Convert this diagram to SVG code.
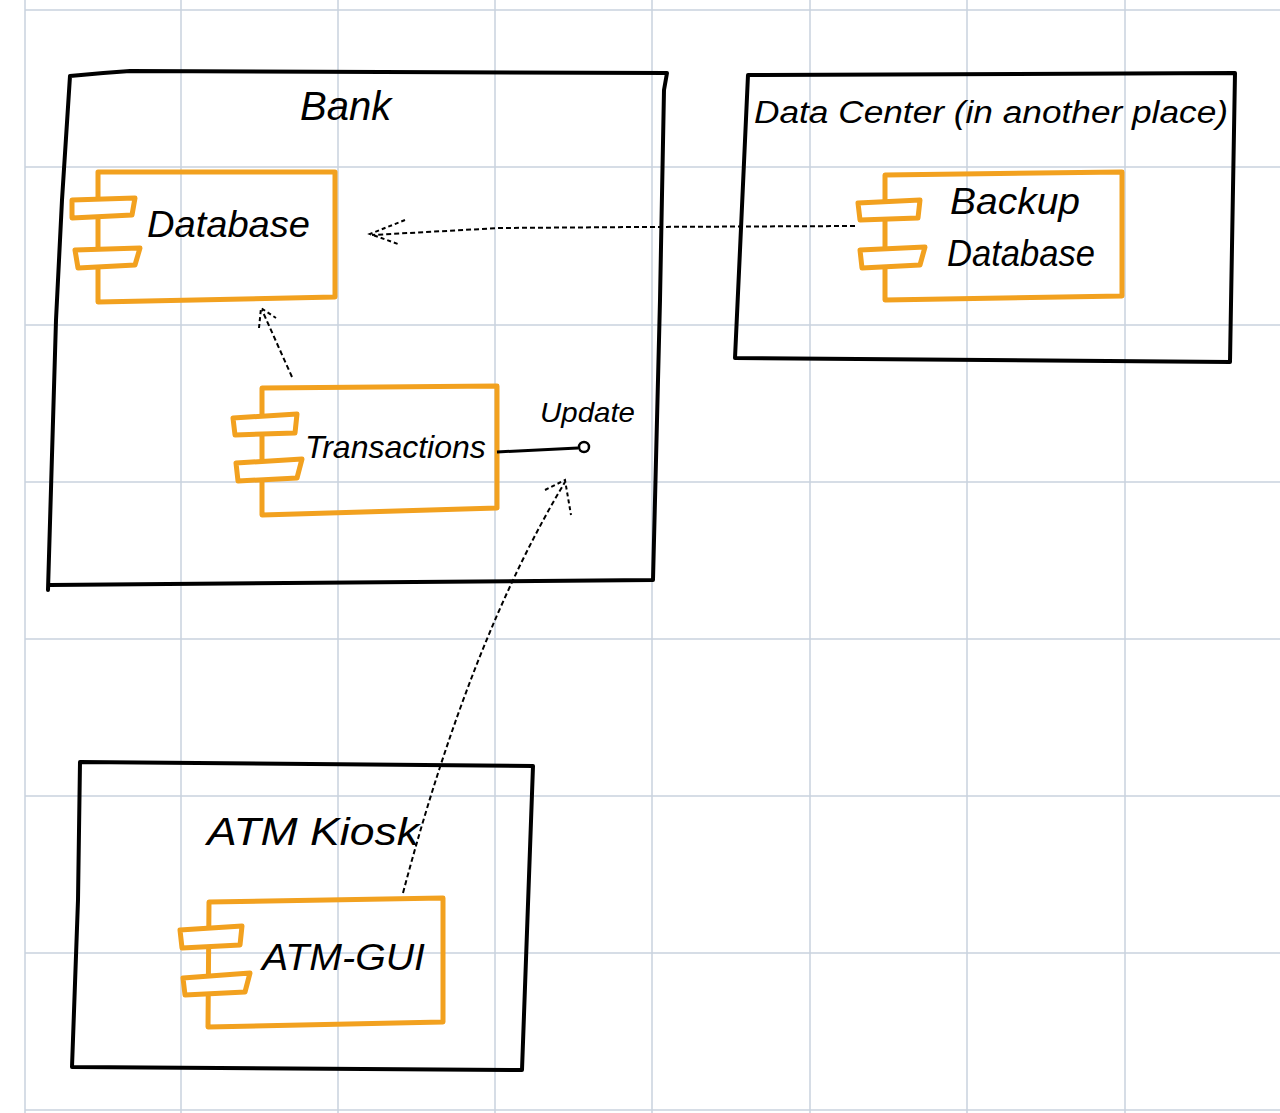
<svg xmlns="http://www.w3.org/2000/svg" width="1280" height="1113" viewBox="0 0 1280 1113">
<defs>
<style>
.grid{stroke:#c9d2de;stroke-width:1.5}
.frame{fill:none;stroke:#000;stroke-width:4;stroke-linejoin:round;stroke-linecap:round}
.comp{fill:none;stroke:#f2a11f;stroke-width:5;stroke-linejoin:round;stroke-linecap:round}
.tab{fill:#fff;stroke:#f2a11f;stroke-width:5;stroke-linejoin:round}
.dash{fill:none;stroke:#000;stroke-width:2;stroke-dasharray:5 3}
.ah{fill:none;stroke:#000;stroke-width:2;stroke-dasharray:4 3}
.lbl{font-family:"Liberation Sans",Arial,sans-serif;font-style:italic;fill:#000}
</style>
</defs>
<rect width="1280" height="1113" fill="#fff"/>
<g id="grid">
<line class="grid" x1="25" y1="0" x2="25" y2="1113"/>
<line class="grid" x1="181" y1="0" x2="181" y2="1113"/>
<line class="grid" x1="338" y1="0" x2="338" y2="1113"/>
<line class="grid" x1="495" y1="0" x2="495" y2="1113"/>
<line class="grid" x1="652" y1="0" x2="652" y2="1113"/>
<line class="grid" x1="810" y1="0" x2="810" y2="1113"/>
<line class="grid" x1="967" y1="0" x2="967" y2="1113"/>
<line class="grid" x1="1125" y1="0" x2="1125" y2="1113"/>
<line class="grid" x1="25" y1="10" x2="1280" y2="10"/>
<line class="grid" x1="25" y1="167" x2="1280" y2="167"/>
<line class="grid" x1="25" y1="325" x2="1280" y2="325"/>
<line class="grid" x1="25" y1="482" x2="1280" y2="482"/>
<line class="grid" x1="25" y1="639" x2="1280" y2="639"/>
<line class="grid" x1="25" y1="796" x2="1280" y2="796"/>
<line class="grid" x1="25" y1="953" x2="1280" y2="953"/>
<line class="grid" x1="25" y1="1110" x2="1280" y2="1110"/>
</g>
<g id="bank">
<path class="frame" d="M70,76 Q100,73 130,71 L667,73 L664,90 L660,300 L655,500 L653,580 L50,585 M48,590 L56,320 L62,200 L70,76"/>
<text class="lbl" x="300" y="120" font-size="40">Bank</text>
</g>
<g id="datacenter">
<path class="frame" d="M748,75 L1235,73 L1230,362 L735,358 L740,250 Z"/>
<text class="lbl" x="754" y="123" font-size="31" textLength="474" lengthAdjust="spacingAndGlyphs">Data Center (in another place)</text>
</g>
<g id="atmkiosk">
<path class="frame" d="M80,762 L533,766 L522,1070 L72,1067 L78,900 Z"/>
<text class="lbl" x="207" y="845" font-size="38" textLength="212" lengthAdjust="spacingAndGlyphs">ATM Kiosk</text>
</g>
<g id="database">
<path class="comp" d="M98,172 L335,172 L335,297 L98,302 Z"/>
<path class="tab" d="M72,200 L135,198 L132,215 L72,218 Z"/>
<path class="tab" d="M75,250 L140,248 L135,265 L78,268 Z"/>
<text class="lbl" x="147" y="237" font-size="36" textLength="163" lengthAdjust="spacingAndGlyphs">Database</text>
</g>
<g id="transactions">
<path class="comp" d="M262,388 L497,386 L497,508 L262,515 Z"/>
<path class="tab" d="M233,418 L297,414 L295,433 L235,435 Z"/>
<path class="tab" d="M236,463 L302,459 L297,478 L238,481 Z"/>
<text class="lbl" x="305" y="458" font-size="32">Transactions</text>
</g>
<g id="update">
<path d="M497,452 L578,448" fill="none" stroke="#000" stroke-width="3"/>
<circle cx="584" cy="447" r="5" fill="#fff" stroke="#000" stroke-width="2.5"/>
<text class="lbl" x="540" y="422" font-size="28" textLength="95" lengthAdjust="spacingAndGlyphs">Update</text>
</g>
<g id="backupdb">
<path class="comp" d="M885,175 L1122,172 L1122,296 L885,300 Z"/>
<path class="tab" d="M858,203 L920,200 L918,218 L860,220 Z"/>
<path class="tab" d="M860,250 L925,247 L920,265 L862,268 Z"/>
<text class="lbl" x="950" y="214" font-size="36" textLength="130" lengthAdjust="spacingAndGlyphs">Backup</text>
<text class="lbl" x="947" y="266" font-size="36" textLength="148" lengthAdjust="spacingAndGlyphs">Database</text>
</g>
<g id="atmgui">
<path class="comp" d="M209,902 L443,898 L443,1022 L208,1027 Z"/>
<path class="tab" d="M180,930 L242,926 L240,945 L182,948 Z"/>
<path class="tab" d="M183,978 L250,973 L245,992 L185,995 Z"/>
<text class="lbl" x="262" y="970" font-size="36" textLength="163" lengthAdjust="spacingAndGlyphs">ATM-GUI</text>
</g>
<g id="connectors">
<path class="dash" d="M855,226 L640,227 L500,228 L372,235"/>
<path class="ah" d="M405,220 L370,234 L398,244"/>
<path class="dash" d="M292,377 L262,310"/>
<path class="ah" d="M259,328 L261,308 L276,318"/>
<path class="dash" d="M403,893 Q470,640 565,482"/>
<path class="ah" d="M545,490 L565,480 L571,515"/>
</g>
</svg>
